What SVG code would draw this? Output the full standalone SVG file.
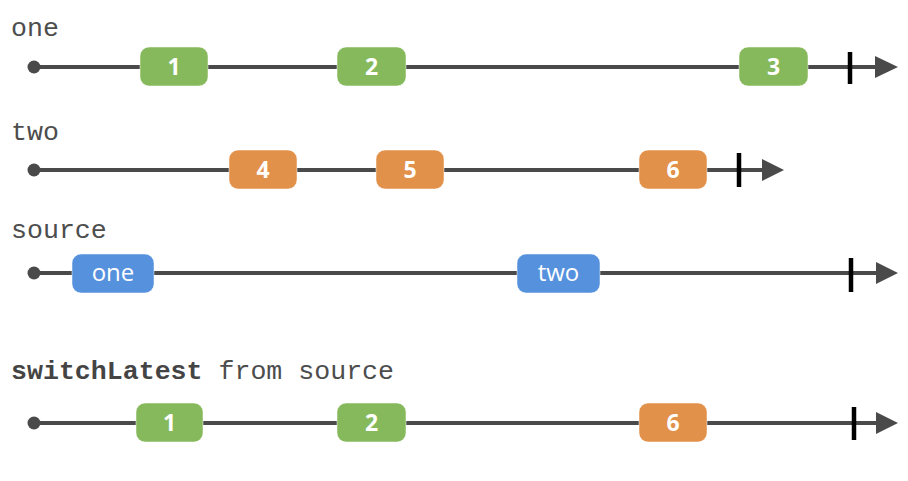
<svg xmlns="http://www.w3.org/2000/svg" width="908" height="481" viewBox="0 0 908 481">
<style>
.bg{fill:#ffffff}
.lbl{font-family:"Liberation Mono","DejaVu Sans Mono",monospace;font-size:26.6px;fill:#4d4d4d}
.bold{font-weight:bold;fill:#444444}
.tl{stroke:#4a4a4a;stroke-width:4;fill:none}
.dot{fill:#4a4a4a}
.arr{fill:#4a4a4a}
.tick{stroke:#000;stroke-width:4.5}
.m rect{stroke:#ffffff;stroke-opacity:0.5;stroke-width:1}
.g rect{fill:#86b95b}
.o rect{fill:#e2914a}
.b rect{fill:#5591dd}
.m text{font-family:"Open Sans","Liberation Sans",sans-serif;font-size:23px;font-weight:bold;fill:#ffffff;text-anchor:middle}
.b text{font-weight:normal;font-size:24px}
</style>
<rect class="bg" x="0" y="0" width="908" height="481"/>
<g id="labels">
<text class="lbl" x="11" y="36">one</text>
<text class="lbl" x="11" y="140">two</text>
<text class="lbl" x="11" y="238">source</text>
<text class="lbl" x="11" y="379"><tspan class="bold">switchLatest</tspan> from source</text>
</g>
<g id="connectors">
<line class="tl" x1="34" y1="67" x2="880" y2="67"/>
<polygon class="arr" points="875,56 898,67 875,78"/>
<line class="tl" x1="34" y1="170" x2="765" y2="170"/>
<polygon class="arr" points="762,159 784,170 762,181"/>
<line class="tl" x1="34" y1="273" x2="880" y2="273"/>
<polygon class="arr" points="876,262 898,273 876,284"/>
<line class="tl" x1="34" y1="423" x2="880" y2="423"/>
<polygon class="arr" points="876,412 898,423 876,434"/>
</g>
<g id="starts">
<circle class="dot" cx="34" cy="67" r="6.5"/>
<circle class="dot" cx="34" cy="170" r="6.5"/>
<circle class="dot" cx="34" cy="273" r="6.5"/>
<circle class="dot" cx="34" cy="423" r="6.5"/>
</g>
<g id="completions">
<line class="tick" x1="850" y1="52" x2="850" y2="84"/>
<line class="tick" x1="739" y1="153" x2="739" y2="187"/>
<line class="tick" x1="851" y1="258" x2="851" y2="292"/>
<line class="tick" x1="854" y1="407" x2="854" y2="440"/>
</g>
<g id="one-1" class="m g"><rect x="140" y="47" width="68" height="39" rx="9"/><text x="174" y="75">1</text></g>
<g id="one-2" class="m g"><rect x="337" y="47" width="69" height="39" rx="9"/><text x="371.5" y="75">2</text></g>
<g id="one-3" class="m g"><rect x="739" y="47" width="69" height="39" rx="9"/><text x="773.5" y="75">3</text></g>
<g id="two-4" class="m o"><rect x="229" y="150" width="68" height="39" rx="9"/><text x="263" y="178">4</text></g>
<g id="two-5" class="m o"><rect x="376" y="150" width="68" height="39" rx="9"/><text x="410" y="178">5</text></g>
<g id="two-6" class="m o"><rect x="639" y="150" width="68" height="39" rx="9"/><text x="673" y="178">6</text></g>
<g id="source-one" class="m b"><rect x="72" y="254" width="82" height="39" rx="9"/><text x="113" y="281">one</text></g>
<g id="source-two" class="m b"><rect x="517" y="254" width="83" height="39" rx="9"/><text x="558.5" y="281">two</text></g>
<g id="out-1" class="m g"><rect x="136" y="403" width="67" height="39" rx="9"/><text x="169.5" y="431">1</text></g>
<g id="out-2" class="m g"><rect x="337" y="403" width="69" height="39" rx="9"/><text x="371.5" y="431">2</text></g>
<g id="out-6" class="m o"><rect x="639" y="403" width="68" height="39" rx="9"/><text x="673" y="431">6</text></g>
</svg>
